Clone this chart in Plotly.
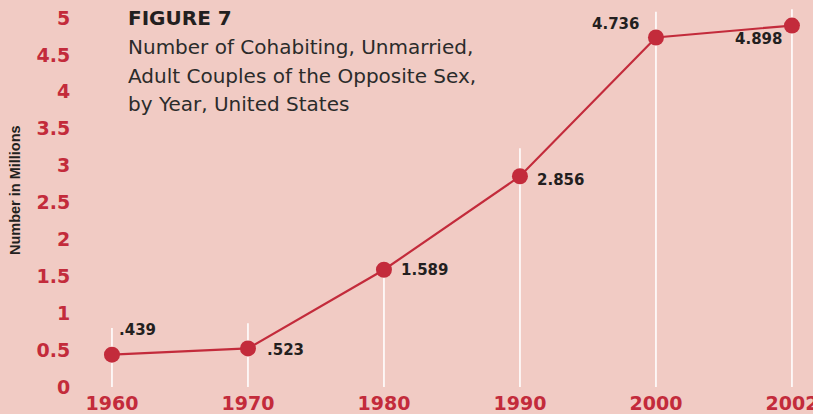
import plotly.graph_objects as go

# ---- data ----
years = ["1960", "1970", "1980", "1990", "2000", "2002"]
values = [0.439, 0.523, 1.589, 2.856, 4.736, 4.898]
value_labels = [".439", ".523", "1.589", "2.856", "4.736", "4.898"]
y_tickvals = [0, 0.5, 1, 1.5, 2, 2.5, 3, 3.5, 4, 4.5, 5]
y_ticktext = ["0", "0.5", "1", "1.5", "2", "2.5", "3", "3.5", "4", "4.5", "5"]
title_text = "FIGURE 7"
subtitle_lines = ["Number of Cohabiting, Unmarried,",
                  "Adult Couples of the Opposite Sex,",
                  "by Year, United States"]
y_title = "Number in Millions"

# ---- style ----
BG = "#f1cbc4"
RED = "#c32b3b"
DARK = "#231f20"
# stem extension above each point (data units) and label offsets (px)
stem_ext = [0.36, 0.34, 0.0, 0.38, 0.35, 0.22]
label_dx = [26, 38, 41, 41, -40, -33]
label_dy = [25, -2, 0, -4, 14, -13]

fig = go.Figure()

# white stems
fig.add_trace(go.Scatter(
    x=years, y=values, mode="markers",
    marker=dict(size=1, opacity=0),
    error_y=dict(type="data", symmetric=False, array=stem_ext,
                 arrayminus=values, color="white", thickness=1.6, width=0),
    hoverinfo="skip", showlegend=False,
))

# line + markers
fig.add_trace(go.Scatter(
    x=years, y=values, mode="lines+markers",
    line=dict(color=RED, width=2.2),
    marker=dict(color=RED, size=16),
    showlegend=False,
))

for i, (v, t, dx, dy) in enumerate(zip(values, value_labels, label_dx, label_dy)):
    fig.add_annotation(
        x=i, y=v, xref="x", yref="y", text=t, showarrow=False,
        xanchor="center", yanchor="middle",
        xshift=dx, yshift=dy,
        font=dict(family="DejaVu Sans", size=15, color=DARK, weight="bold"),
    )

fig.add_annotation(
    xref="paper", yref="paper", x=0, y=1, xanchor="left", yanchor="middle",
    xshift=46, yshift=-14, text=title_text, showarrow=False,
    font=dict(family="DejaVu Sans", size=20, color=DARK, weight="bold"),
)
for i, line in enumerate(subtitle_lines):
    fig.add_annotation(
        xref="paper", yref="paper", x=0, y=1, xanchor="left", yanchor="middle",
        xshift=46, yshift=-43 - i * 28.5, text=line, showarrow=False,
        font=dict(family="DejaVu Sans", size=20, color="#2b2b2b"),
    )

fig.add_annotation(
    xref="paper", yref="paper", x=0, y=0.518, xanchor="center", yanchor="middle",
    xshift=-65, text=y_title, textangle=-90, showarrow=False,
    font=dict(family="Liberation Sans", size=14.5, color=DARK, weight="bold"),
)

fig.update_layout(
    width=813, height=414,
    margin=dict(l=80, r=8, t=4, b=24, autoexpand=False),
    paper_bgcolor=BG, plot_bgcolor=BG,
    xaxis=dict(
        type="category", range=[-0.235, 5.096], automargin=False,
        showgrid=False, zeroline=False, showline=False, ticks="",
        tickfont=dict(family="DejaVu Sans", size=19, color=RED, weight="bold"),
        fixedrange=True,
    ),
    yaxis=dict(
        range=[-0.04, 5.19], tickvals=y_tickvals, ticktext=y_ticktext,
        automargin=False,
        showgrid=False, zeroline=False, showline=False,
        ticks="outside", ticklen=5, tickcolor=BG,
        tickfont=dict(family="DejaVu Sans", size=19, color=RED, weight="bold"),
        fixedrange=True,
    ),
    hovermode=False,
)

fig.write_html(
    "out.html",
    config={"displayModeBar": False},
    post_script="document.body.style.margin='0';"
                "document.body.style.background='" + BG + "';",
)
